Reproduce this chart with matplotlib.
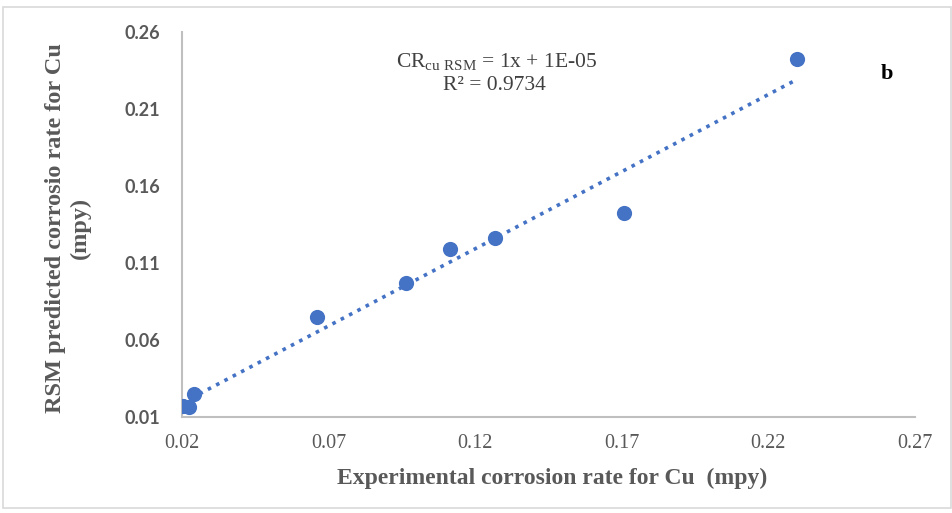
import numpy as np
import matplotlib.pyplot as plt
from matplotlib.patches import Rectangle

# data
exp_rate = [0.0203, 0.0224, 0.0241, 0.0660, 0.0964, 0.1114, 0.1268, 0.1708, 0.2298]
rsm_rate = [0.0171, 0.0165, 0.0249, 0.0749, 0.0970, 0.1191, 0.1262, 0.1425, 0.2425]
xticks = [0.02, 0.07, 0.12, 0.17, 0.22, 0.27]
yticks = [0.01, 0.06, 0.11, 0.16, 0.21, 0.26]

plt.rcParams['mathtext.fontset'] = 'custom'
plt.rcParams['mathtext.rm'] = 'Liberation Serif'
serif = ['Liberation Serif', 'DejaVu Serif']
txt = '#595959'
blue = '#4472c4'

fig = plt.figure(figsize=(9.53, 5.13), dpi=100)
fig.patches.append(Rectangle((3/953, 5/513), 948/953, 501/513, transform=fig.transFigure,
                             fill=False, edgecolor='#d9d9d9', linewidth=1.2))
ax = fig.add_axes([0.191, 0.187, 0.769, 0.751])

ax.scatter(exp_rate, rsm_rate, s=120, color=blue, zorder=3, linewidths=0)
k, c = np.polyfit(exp_rate, rsm_rate, 1)
lx = np.array([min(exp_rate), max(exp_rate)])
ax.plot(lx, k*lx+c, linestyle=(0, (1, 1.6)), color=blue, linewidth=2.6, zorder=2)

ax.set_xlim(0.02, 0.27)
ax.set_ylim(0.01, 0.26)
ax.set_xticks(xticks)
ax.set_xticklabels(['%.2f' % v for v in xticks], family=serif, fontsize=14.5, color=txt)
ax.set_yticks(yticks)
ax.set_yticklabels(['%.2f' % v for v in yticks], family=['Lato', 'DejaVu Sans'],
                   fontsize=13, fontweight='bold', color=txt)
ax.tick_params(length=0)
ax.tick_params(axis='x', pad=12)
ax.tick_params(axis='y', pad=16)
for s in ['top', 'right']:
    ax.spines[s].set_visible(False)
for s in ['left', 'bottom']:
    ax.spines[s].set_color('#bfbfbf')
    ax.spines[s].set_linewidth(1.5)

fig.text(552/953, 1-478/513, 'Experimental corrosion rate for Cu  (mpy)', family=serif,
         fontsize=17, fontweight='bold', color=txt, ha='center', va='center')
fig.text(68/953, 1-228/513, 'RSM predicted corrosio rate for Cu\n(mpy)', family=serif,
         fontsize=17.5, fontweight='bold', color=txt, ha='center', va='center',
         rotation=90, linespacing=1.2, multialignment='center')

fig.text(497/953, 1-62/513, r'$\mathrm{CR_{cu\ RSM}}$ = 1x + 1E-05', ha='center', va='center',
         family=serif, fontsize=15.5, color='#404040')
fig.text(494/953, 1-86/513, 'R² = 0.9734', ha='center', va='center', family=serif,
         fontsize=15.5, color='#404040')
fig.text(887/953, 1-74/513, 'b', ha='center', va='center', family=serif, fontsize=16,
         fontweight='bold', color='black')

fig.savefig('out.png', dpi=100)
